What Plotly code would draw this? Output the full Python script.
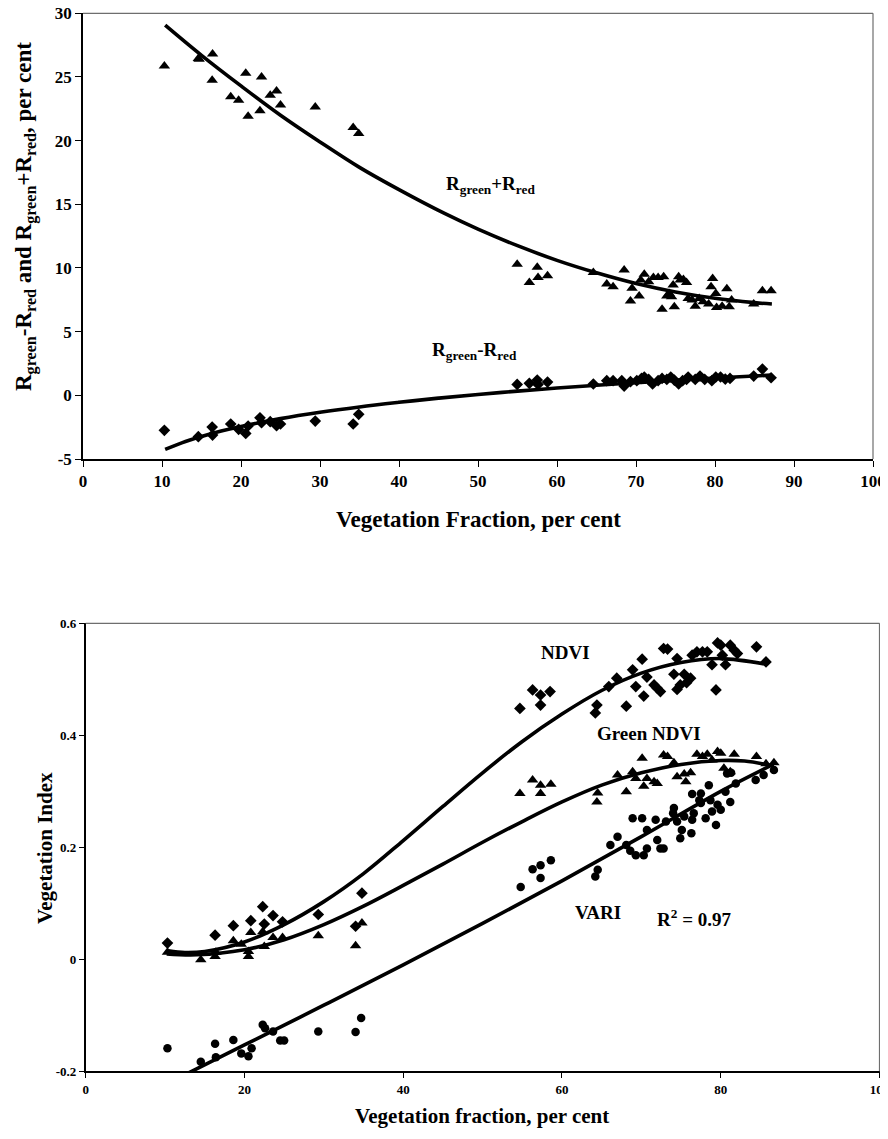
import plotly.graph_objects as go

# The page body has an 8px default margin; positions below are reference pixels,
# converted to figure pixels by subtracting OFF.
OFF = 8
W, H = 880, 1131

# ---------------- Top panel data ----------------
sum_x = [10.3, 14.6, 14.7, 16.4, 16.35, 18.7, 19.7, 20.9, 20.6, 22.4, 22.6, 23.7, 24.5, 25.0,
         29.4, 34.2, 34.9,
         54.96, 56.5, 57.5, 57.6, 58.8, 64.6, 66.3, 67.1, 68.5, 69.3, 69.5, 70.4, 70.6, 71.05,
         71.6, 72.2, 72.8, 73.5, 73.3, 73.9, 74.2, 74.5, 74.7, 74.85, 75.4, 75.6, 76.0, 76.4,
         76.6, 77.1, 77.5, 78.0, 78.5, 79.2, 79.5, 79.7, 80.1, 80.2, 80.9, 81.5, 81.8, 82.1,
         84.9, 86.0, 87.1]
sum_y = [25.87, 26.45, 26.4, 26.8, 24.75, 23.44, 23.18, 21.92, 25.3, 22.34, 25.0, 23.57, 23.9, 22.79,
         22.65, 21.03, 20.56,
         10.3, 8.87, 10.05, 9.26, 9.39, 9.65, 8.74, 8.53, 9.84, 7.4, 8.4, 7.8, 9.05, 9.5,
         8.92, 9.26, 9.26, 9.31, 6.75, 7.8, 8.0, 7.74, 8.66, 6.96, 9.31, 9.05, 9.1, 8.87,
         7.6, 7.48, 7.0, 7.6, 7.35, 7.17, 8.53, 9.18, 8.0, 6.9, 7.0, 8.37, 6.96, 7.48,
         7.17, 8.21, 8.21]

diff_x = [10.3, 14.6, 16.35, 16.4, 18.7, 19.7, 20.6, 20.9, 22.4, 22.6, 23.7, 24.5, 25.0,
          29.4, 34.2, 34.9,
          54.96, 56.5, 57.5, 57.6, 58.8, 64.6, 66.3, 67.1, 68.2, 68.5, 69.3, 70.1, 70.7, 71.05,
          71.6, 72.1, 72.8, 73.3, 73.9, 74.4, 74.85, 75.4, 75.9, 76.4, 76.6, 77.5, 78.1, 78.7,
          79.6, 80.1, 80.7, 81.3, 81.9, 84.9, 86.0, 87.1]
diff_y = [-2.75, -3.25, -2.49, -3.12, -2.25, -2.67, -2.99, -2.41, -1.76, -2.15, -2.07, -2.39, -2.25,
          -2.02, -2.25, -1.49,
          0.86, 0.94, 1.2, 0.86, 1.04, 0.89, 1.15, 1.15, 1.15, 0.73, 1.07, 1.15, 1.33, 1.44,
          1.25, 0.89, 1.15, 1.33, 1.25, 1.44, 1.2, 0.89, 1.15, 1.25, 1.44, 1.25, 1.51, 1.25,
          1.15, 1.44, 1.44, 1.28, 1.33, 1.51, 2.06, 1.38]

# fitted trend curves
sum_fit_x = [10.4, 15, 20, 25, 30, 35, 40, 45.7, 50, 55, 60, 65, 70, 75, 80, 85, 87.2]
sum_fit_y = [29.07, 26.7, 24.3, 22.0, 19.9, 17.9, 16.15, 14.3, 13.05, 11.75, 10.6, 9.62, 8.78, 8.12, 7.62, 7.28, 7.17]
diff_fit_x = [10.4, 12.5, 15, 17.5, 20, 25, 30, 35, 40, 45, 50, 55, 60, 65, 70, 75, 80, 87.2]
diff_fit_y = [-4.24, -3.73, -3.24, -2.81, -2.45, -1.83, -1.33, -0.91, -0.55, -0.22, 0.07, 0.33, 0.57,
              0.79, 0.99, 1.18, 1.36, 1.59]

top_xticks = [0, 10, 20, 30, 40, 50, 60, 70, 80, 90, 100]
top_xtext = ["0", "10", "20", "30", "40", "50", "60", "70", "80", "90", "100"]
top_yticks = [-5, 0, 5, 10, 15, 20, 25, 30]
top_ytext = ["-5", "0", "5", "10", "15", "20", "25", "30"]

# ---------------- Bottom panel data ----------------
ndvi_x = [10.3, 16.3, 18.6, 20.8, 22.3, 22.5, 23.6, 24.8, 29.3, 34.0, 34.8,
          54.7, 56.3, 57.3, 58.5, 57.3, 64.2, 64.4, 65.9, 66.9, 68.1, 68.9, 69.3, 70.1, 70.3,
          70.7, 71.6, 72.0, 72.4, 72.8, 73.3, 74.1, 74.5, 74.5, 74.9, 75.4, 75.7, 76.2, 76.4,
          77.0, 77.7, 78.3, 78.9, 79.4, 79.6, 80.0, 80.2, 80.6, 81.2, 81.7, 82.1, 84.5, 85.7]
ndvi_y = [0.029, 0.043, 0.06, 0.069, 0.094, 0.063, 0.078, 0.067, 0.08, 0.059, 0.118,
          0.448, 0.481, 0.472, 0.478, 0.454, 0.440, 0.454, 0.487, 0.502, 0.452, 0.517, 0.487, 0.536, 0.47,
          0.504, 0.49, 0.484, 0.478, 0.555, 0.554, 0.509, 0.537, 0.482, 0.49, 0.509, 0.494, 0.502, 0.543,
          0.549, 0.549, 0.549, 0.526, 0.481, 0.565, 0.561, 0.543, 0.526, 0.561, 0.552, 0.546, 0.558, 0.531]

gndvi_x = [10.3, 14.5, 16.3, 16.4, 18.6, 19.6, 20.5, 20.5, 20.8, 22.3, 22.5, 23.6, 24.8, 29.3, 34.0, 34.8,
           54.7, 56.3, 57.3, 57.3, 58.6, 64.4, 64.5, 67.0, 68.1, 68.9, 69.3, 70.1, 70.3, 70.7,
           71.6, 72.0, 72.8, 73.3, 74.1, 74.5, 75.4, 75.6, 76.2, 77.0, 77.7, 78.3, 78.9, 79.6,
           80.0, 80.4, 81.2, 81.7, 84.5, 85.7, 86.7]
gndvi_y = [0.0125, -0.001, 0.005, 0.0125, 0.033, 0.027, 0.005, 0.014, 0.048, 0.049, 0.023, 0.039, 0.039, 0.042, 0.024, 0.065,
           0.296, 0.320, 0.311, 0.296, 0.3125, 0.281, 0.297, 0.329, 0.299, 0.335, 0.323, 0.359, 0.309, 0.323,
           0.317, 0.314, 0.365, 0.362, 0.351, 0.326, 0.331, 0.317, 0.333, 0.366, 0.362, 0.366, 0.356, 0.371,
           0.368, 0.341, 0.335, 0.366, 0.362, 0.349, 0.351]

vari_x = [10.3, 14.5, 16.3, 16.4, 18.6, 19.6, 20.5, 20.9, 22.3, 22.6, 23.6, 24.5, 25.0, 29.3, 34.0, 34.7,
          54.8, 56.3, 57.3, 57.3, 58.6, 64.2, 64.5,
          66.1, 67.0, 68.1, 68.6, 68.9, 69.3, 70.1, 70.3, 70.7, 70.7, 71.8, 72.0, 72.4, 72.8, 73.1,
          74.0, 74.1, 74.5, 74.9, 75.1, 75.4, 76.3, 76.4, 76.4, 76.6, 77.3, 77.5, 77.5, 78.1, 78.5,
          78.7, 78.9, 79.4, 79.6, 80.0, 80.6, 80.8, 81.2, 81.3, 81.9, 84.4, 85.4, 86.7]
vari_y = [-0.159, -0.183, -0.151, -0.175, -0.144, -0.168, -0.173, -0.159, -0.117, -0.123, -0.129, -0.145, -0.145, -0.129, -0.130, -0.105,
          0.129, 0.161, 0.145, 0.168, 0.177, 0.148, 0.160,
          0.204, 0.219, 0.204, 0.194, 0.252, 0.186, 0.252, 0.186, 0.231, 0.198, 0.249, 0.213, 0.198, 0.198, 0.246,
          0.261, 0.27, 0.246, 0.216, 0.231, 0.255, 0.225, 0.249, 0.295, 0.261, 0.284, 0.279, 0.296, 0.252, 0.311,
          0.284, 0.264, 0.24, 0.276, 0.267, 0.299, 0.332, 0.281, 0.333, 0.314, 0.32, 0.329, 0.338]

ndvi_fit_x = [10.4, 12.5, 15, 20, 25, 30, 35, 40, 45, 50, 55, 60, 65, 70, 75, 80, 85.7]
ndvi_fit_y = [0.015, 0.012, 0.014, 0.031, 0.062, 0.103, 0.153, 0.212, 0.273, 0.333, 0.389, 0.438,
              0.480, 0.511, 0.530, 0.537, 0.527]
gndvi_fit_x = [10.2, 14, 20, 25, 30, 35, 40, 45, 50, 55, 60, 65, 70, 75, 80, 83, 86.7]
gndvi_fit_y = [0.0095, 0.008, 0.017, 0.035, 0.062, 0.095, 0.132, 0.170, 0.209, 0.246, 0.281, 0.311,
               0.333, 0.348, 0.355, 0.354, 0.345]
vari_fit_x = [10.4, 20, 30, 40, 50, 60, 70, 80, 86.6]
vari_fit_y = [-0.221, -0.153, -0.082, -0.010, 0.064, 0.140, 0.219, 0.300, 0.348]

bot_xticks = [0, 20, 40, 60, 80, 100]
bot_xtext = ["0", "20", "40", "60", "80", "100"]
bot_yticks = [-0.2, 0, 0.2, 0.4, 0.6]
bot_ytext = ["-0.2", "0", "0.2", "0.4", "0.6"]

# ---------------- Figure ----------------
FONT = "Liberation Serif"
BLACK = "#000000"

def fx(px):
    return (px - OFF) / W

def fy(py):
    return 1 - (py - OFF) / H

fig = go.Figure()

mk = dict(color=BLACK, line=dict(width=0))
line_style = dict(color=BLACK, width=3.6, shape="spline", smoothing=1.0)

fig.add_trace(go.Scatter(x=sum_x, y=sum_y, mode="markers", xaxis="x", yaxis="y",
                         marker=dict(symbol="triangle-up", size=10, **mk), showlegend=False))
fig.add_trace(go.Scatter(x=diff_x, y=diff_y, mode="markers", xaxis="x", yaxis="y",
                         marker=dict(symbol="diamond", size=9, **mk), showlegend=False))
fig.add_trace(go.Scatter(x=sum_fit_x, y=sum_fit_y, mode="lines", xaxis="x", yaxis="y",
                         line=line_style, showlegend=False))
fig.add_trace(go.Scatter(x=diff_fit_x, y=diff_fit_y, mode="lines", xaxis="x", yaxis="y",
                         line=line_style, showlegend=False))

fig.add_trace(go.Scatter(x=ndvi_x, y=ndvi_y, mode="markers", xaxis="x2", yaxis="y2",
                         marker=dict(symbol="diamond", size=9, **mk), showlegend=False))
fig.add_trace(go.Scatter(x=gndvi_x, y=gndvi_y, mode="markers", xaxis="x2", yaxis="y2",
                         marker=dict(symbol="triangle-up", size=10, **mk), showlegend=False))
fig.add_trace(go.Scatter(x=vari_x, y=vari_y, mode="markers", xaxis="x2", yaxis="y2",
                         marker=dict(symbol="circle", size=8.5, **mk), showlegend=False))
for cx, cy in [(ndvi_fit_x, ndvi_fit_y), (gndvi_fit_x, gndvi_fit_y), (vari_fit_x, vari_fit_y)]:
    fig.add_trace(go.Scatter(x=cx, y=cy, mode="lines", xaxis="x2", yaxis="y2",
                             line=line_style, showlegend=False))

tick_top = dict(family=FONT, size=17, color=BLACK, weight="bold")
tick_bot = dict(family=FONT, size=13, color=BLACK, weight="bold")

def ax(domain, anchor, rng, tv, tt, font, ticklen):
    return dict(domain=domain, anchor=anchor, range=rng, tickmode="array", tickvals=tv, ticktext=tt,
                tickfont=font, ticks="outside", ticklen=ticklen, tickwidth=1, tickcolor=BLACK,
                showline=True, linecolor=BLACK, linewidth=1.5, showgrid=False, zeroline=False,
                automargin=False, fixedrange=True, ticklabeloverflow="allow")

fig.update_layout(
    width=W, height=H,
    margin=dict(l=0, r=0, t=0, b=0),
    paper_bgcolor="white", plot_bgcolor="white",
    font=dict(family=FONT, color=BLACK),
    xaxis=ax([fx(83), fx(873)], "y", [0, 100], top_xticks, top_xtext, tick_top, 6),
    yaxis=ax([fy(459), fy(13.3)], "x", [-5, 30], top_yticks, top_ytext, tick_top, 6),
    xaxis2=ax([fx(85.7), fx(879.5)], "y2", [0, 100], bot_xticks, bot_xtext, tick_bot, 5),
    yaxis2=ax([fy(1071.3), fy(623.3)], "x2", [-0.2, 0.6], bot_yticks, bot_ytext, tick_bot, 5),
)

# grey frame on top/right
for xr, yr in [("x domain", "y domain"), ("x2 domain", "y2 domain")]:
    fig.add_shape(type="line", xref=xr, yref=yr, x0=0, x1=1, y0=1, y1=1,
                  line=dict(color="#6e6e6e", width=1.2))
    fig.add_shape(type="line", xref=xr, yref=yr, x0=1, x1=1, y0=0, y1=1,
                  line=dict(color="#6e6e6e", width=1.2))

ann_font = dict(family=FONT, size=19, color=BLACK, weight="bold")
title_font_top = dict(family=FONT, size=23, color=BLACK, weight="bold")
title_font_bot = dict(family=FONT, size=21, color=BLACK, weight="bold")

def pann(px, py, text, font, angle=0):
    fig.add_annotation(x=fx(px), y=fy(py), xref="paper", yref="paper", text=text,
                       showarrow=False, font=font, textangle=angle,
                       xanchor="center", yanchor="middle")

# axis titles
pann(478, 519, "Vegetation Fraction, per cent", title_font_top)
pann(25, 217, "R<sub>green</sub>-R<sub>red</sub> and R<sub>green</sub>+R<sub>red</sub>, per cent",
     title_font_top, -90)
pann(482, 1116, "Vegetation fraction, per cent", title_font_bot)
pann(45, 848, "Vegetation Index", title_font_bot, -90)

# in-plot labels
fig.add_annotation(x=51.6, y=16.5, xref="x", yref="y", text="R<sub>green</sub>+R<sub>red</sub>",
                   showarrow=False, font=ann_font, xanchor="center", yanchor="middle")
fig.add_annotation(x=49.5, y=3.45, xref="x", yref="y", text="R<sub>green</sub>-R<sub>red</sub>",
                   showarrow=False, font=ann_font, xanchor="center", yanchor="middle")
fig.add_annotation(x=60.5, y=0.548, xref="x2", yref="y2", text="NDVI",
                   showarrow=False, font=ann_font, xanchor="center", yanchor="middle")
fig.add_annotation(x=70.9, y=0.404, xref="x2", yref="y2", text="Green NDVI",
                   showarrow=False, font=ann_font, xanchor="center", yanchor="middle")
fig.add_annotation(x=64.5, y=0.084, xref="x2", yref="y2", text="VARI",
                   showarrow=False, font=ann_font, xanchor="center", yanchor="middle")
fig.add_annotation(x=76.6, y=0.074, xref="x2", yref="y2", text="R<sup>2</sup> = 0.97",
                   showarrow=False, font=ann_font, xanchor="center", yanchor="middle")

fig.write_html("out.html")
